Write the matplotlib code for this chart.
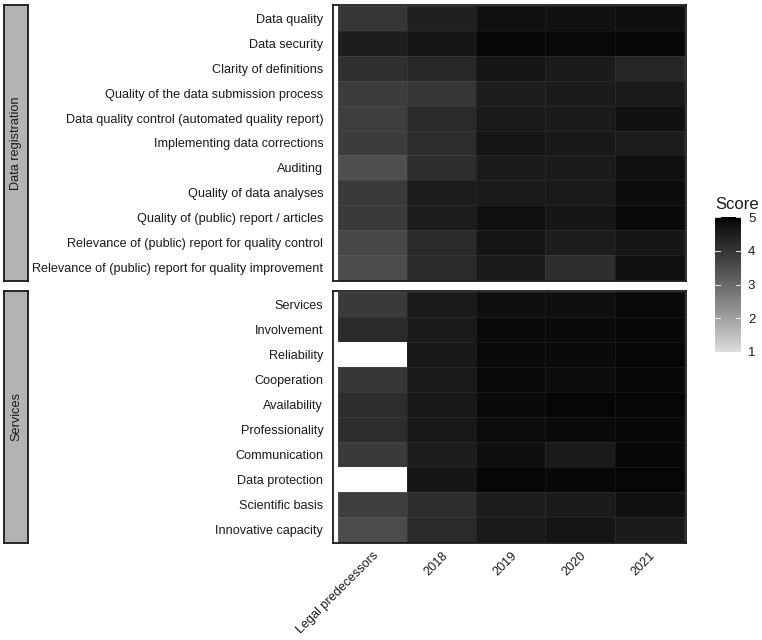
import numpy as np
import matplotlib
matplotlib.use('Agg')
import matplotlib.pyplot as plt
from matplotlib.colors import ListedColormap, Normalize
from matplotlib.cm import ScalarMappable

plt.rcParams['font.family'] = ['Liberation Sans', 'DejaVu Sans']

# ---------------- data ----------------
columns = ['Legal predecessors', '2018', '2019', '2020', '2021']

facet_labels = ['Data registration', 'Services']

registration_items = [
    'Data quality',
    'Data security',
    'Clarity of definitions',
    'Quality of the data submission process',
    'Data quality control (automated quality report)',
    'Implementing data corrections',
    'Auditing',
    'Quality of data analyses',
    'Quality of (public) report / articles',
    'Relevance of (public) report for quality control',
    'Relevance of (public) report for quality improvement',
]
registration_scores = [
    [3.96, 4.45, 4.77, 4.75, 4.80],
    [4.50, 4.69, 4.90, 4.89, 4.92],
    [4.09, 4.27, 4.69, 4.55, 4.33],
    [3.85, 3.96, 4.50, 4.55, 4.57],
    [3.80, 4.21, 4.57, 4.55, 4.77],
    [3.85, 4.17, 4.69, 4.62, 4.52],
    [3.48, 4.13, 4.55, 4.55, 4.77],
    [3.88, 4.52, 4.57, 4.60, 4.84],
    [3.88, 4.52, 4.77, 4.66, 4.86],
    [3.64, 4.21, 4.66, 4.50, 4.66],
    [3.50, 4.21, 4.57, 4.13, 4.77],
]

service_items = [
    'Services',
    'Involvement',
    'Reliability',
    'Cooperation',
    'Availability',
    'Professionality',
    'Communication',
    'Data protection',
    'Scientific basis',
    'Innovative capacity',
]
service_scores = [
    [3.88, 4.57, 4.80, 4.80, 4.89],
    [4.21, 4.57, 4.87, 4.87, 4.90],
    [np.nan, 4.62, 4.87, 4.86, 4.91],
    [3.96, 4.57, 4.87, 4.84, 4.90],
    [4.17, 4.62, 4.86, 4.92, 4.91],
    [4.17, 4.62, 4.84, 4.87, 4.90],
    [3.88, 4.50, 4.80, 4.57, 4.90],
    [np.nan, 4.66, 4.92, 4.90, 4.92],
    [3.80, 4.13, 4.50, 4.55, 4.77],
    [3.55, 4.21, 4.57, 4.69, 4.55],
]

score_ticks = [1, 2, 3, 4, 5]
score_min, score_max = 1, 5


# ---------------- colour scale (Lab-lightness gradient, grey -> black) ----------------
def srgb_to_L(g):
    c = g / 255.0
    lin = c / 12.92 if c <= 0.04045 else ((c + 0.055) / 1.055) ** 2.4
    return 116 * lin ** (1 / 3) - 16 if lin > 0.008856 else 903.3 * lin


def L_to_srgb(L):
    if L > 8:
        Y = ((L + 16) / 116) ** 3
    else:
        Y = L / 903.3
    c = 12.92 * Y if Y <= 0.0031308 else 1.055 * Y ** (1 / 2.4) - 0.055
    return min(max(c, 0), 1)


L_low = srgb_to_L(221)
cols = []
for t in np.linspace(0, 1, 256):
    g = L_to_srgb(L_low * (1 - t))
    cols.append((g, g, g))
cmap = ListedColormap(cols)
cmap.set_bad('white')
norm = Normalize(vmin=score_min, vmax=score_max)

# ---------------- layout ----------------
W, H = 762, 640
fig = plt.figure(figsize=(W / 100, H / 100), dpi=100)


def fx(px):
    return px / W


def fy(px):
    return 1 - px / H


panel_x0, panel_x1 = 333, 686
strip_x0, strip_x1 = 4, 28
panels = [(5, 281), (291, 543)]

datasets = [(registration_items, registration_scores),
            (service_items, service_scores)]

for i, ((top, bot), (items, scores), flabel) in enumerate(zip(panels, datasets, facet_labels)):
    ax = fig.add_axes([fx(panel_x0), fy(bot), fx(panel_x1 - panel_x0), (bot - top) / H])
    data = np.ma.masked_invalid(np.array(scores, dtype=float))
    n = len(items)
    ax.pcolormesh(np.arange(len(columns) + 1) - 0.5, np.arange(n + 1) - 0.5, data,
                  cmap=cmap, norm=norm, edgecolors=(1, 1, 1, 0.06), linewidth=0.6)
    ax.set_xlim(-0.57, 4.53)
    ax.set_ylim(n - 0.5 + 0.05, -0.5 - 0.05)
    ax.set_yticks(range(n))
    ax.set_yticklabels(items, fontsize=9.05, color='#1a1a1a')
    ax.tick_params(axis='y', length=0, pad=7)
    ax.set_xticks(range(len(columns)))
    if i == 1:
        ax.set_xticklabels(columns, fontsize=9.05, color='#1a1a1a', rotation=45,
                           ha='right', va='top', rotation_mode='anchor')
        ax.tick_params(axis='x', length=0, pad=5)
    else:
        ax.set_xticklabels([])
        ax.tick_params(axis='x', length=0)
    for s in ax.spines.values():
        s.set_color('#1a1a1a')
        s.set_linewidth(1.3)

    sax = fig.add_axes([fx(strip_x0), fy(bot), fx(strip_x1 - strip_x0), (bot - top) / H])
    sax.set_facecolor('#b3b3b3')
    sax.set_xticks([])
    sax.set_yticks([])
    for s in sax.spines.values():
        s.set_color('#1a1a1a')
        s.set_linewidth(1.3)
    sax.text(0.5, 0.5, flabel, rotation=90, ha='center', va='center',
             fontsize=9.2, color='#1a1a1a', transform=sax.transAxes)

# ---------------- colour bar ----------------
cb_x0, cb_x1 = 715, 741
cb_top, cb_bot = 217, 352
cax = fig.add_axes([fx(cb_x0), fy(cb_bot), fx(cb_x1 - cb_x0), (cb_bot - cb_top) / H])
cb = fig.colorbar(ScalarMappable(norm=norm, cmap=cmap), cax=cax, ticks=score_ticks)
cb.outline.set_visible(False)
cax.tick_params(length=0, pad=5, labelsize=9.5, colors='#1a1a1a')
for v in score_ticks:
    cax.plot([0, 0.2], [v, v], color='white', lw=0.8, alpha=0.8)
    cax.plot([0.8, 1], [v, v], color='white', lw=0.8, alpha=0.8)
cax.set_xlim(0, 1)
cax.set_ylim(score_min, score_max)
cax.text(0, 1.04, 'Score', transform=cax.transAxes, ha='left', va='bottom',
         fontsize=12, color='#1a1a1a')

fig.savefig('out.png', dpi=100, facecolor='white')
